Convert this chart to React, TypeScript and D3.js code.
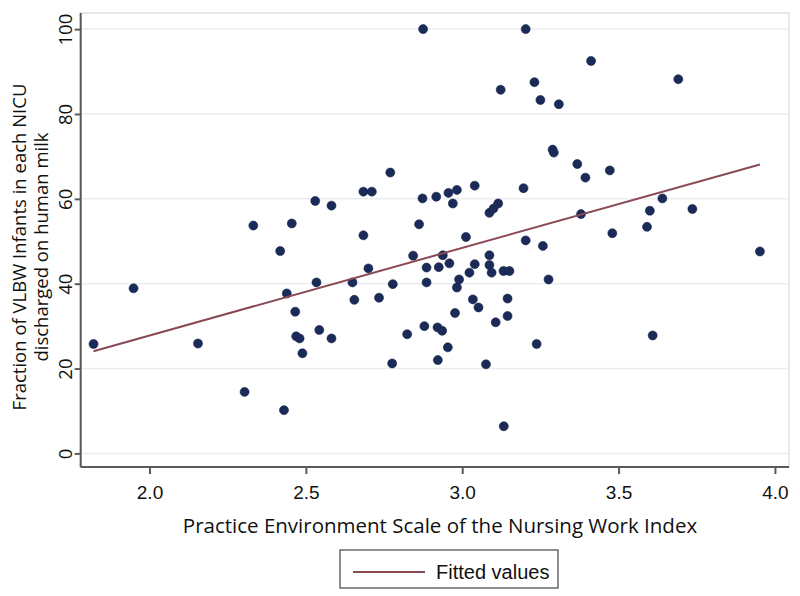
import React, { useEffect, useRef } from "react";
import * as d3 from "d3";

// PES-NWI score per NICU
const pesScore = [
  1.821, 1.949, 2.155, 2.304, 2.332, 2.418, 2.43, 2.439, 2.455, 2.466,
  2.469, 2.48, 2.489, 2.53, 2.534, 2.543, 2.582, 2.582, 2.649, 2.655,
  2.684, 2.684, 2.7, 2.711, 2.734, 2.77, 2.778, 2.776, 2.824, 2.843,
  2.862, 2.873, 2.875, 2.879, 2.886, 2.886, 2.917, 2.921, 2.922, 2.925,
  2.936, 2.938, 2.954, 2.956, 2.959, 2.97, 2.977, 2.983, 2.983, 2.99,
  3.012, 3.023, 3.034, 3.04, 3.04, 3.052, 3.076, 3.087, 3.087, 3.087,
  3.094, 3.1, 3.107, 3.115, 3.123, 3.132, 3.133, 3.145, 3.145, 3.151,
  3.196, 3.203, 3.203, 3.231, 3.238, 3.25, 3.258, 3.276, 3.289, 3.293,
  3.309, 3.368, 3.38, 3.394, 3.412, 3.472, 3.48, 3.591, 3.6, 3.609,
  3.64, 3.691, 3.736, 3.952,
];

// fraction of VLBW infants discharged on human milk
const humanMilk = [
  25.8, 38.9, 25.9, 14.5, 53.7, 47.7, 10.2, 37.7, 54.2, 33.4,
  27.6, 27.1, 23.6, 59.5, 40.3, 29.1, 58.4, 27.1, 40.3, 36.2,
  61.7, 51.4, 43.6, 61.7, 36.7, 66.2, 39.9, 21.2, 28.1, 46.6,
  54.0, 60.1, 100, 30.0, 43.8, 40.3, 60.5, 29.7, 22.0, 43.9,
  28.9, 46.7, 25.0, 61.4, 44.8, 58.9, 33.1, 62.1, 39.1, 41.0,
  51.0, 42.6, 36.3, 63.1, 44.6, 34.4, 21.0, 56.7, 46.7, 44.4,
  42.6, 57.7, 30.9, 58.9, 85.7, 43.0, 6.4, 36.5, 32.4, 43.0,
  62.5, 100, 50.2, 87.5, 25.8, 83.3, 48.9, 41.0, 71.6, 70.9,
  82.3, 68.2, 56.4, 65.0, 92.5, 66.7, 51.9, 53.4, 57.2, 27.8,
  60.1, 88.2, 57.6, 47.6,
];

// fitted values at the ends of the x range
const fitX = [1.821, 3.952];
const fitY = [24.1, 68.1];

const xTicks = [2.0, 2.5, 3.0, 3.5, 4.0];
const yTicks = [0, 20, 40, 60, 80, 100];

const App = () => {
  const ref = useRef<SVGSVGElement>(null);

  useEffect(() => {
    const width = 800;
    const height = 596;
    const plot = { left: 80.7, right: 789, top: 13, bottom: 467 };

    const svg = d3.select(ref.current);
    svg.selectAll("*").remove();
    svg.attr("width", width).attr("height", height);

    const x = d3.scaleLinear().domain([1.78, 4.045]).range([plot.left, plot.right]);
    const y = d3.scaleLinear().domain([-3.2, 103.8]).range([plot.bottom, plot.top]);

    // plot region frame
    svg.append("rect")
      .attr("x", plot.left)
      .attr("y", plot.top)
      .attr("width", plot.right - plot.left)
      .attr("height", plot.bottom - plot.top)
      .attr("fill", "white")
      .attr("stroke", "#e4e8ea")
      .attr("stroke-width", 2);

    // grid
    svg.append("g")
      .selectAll("line")
      .data(yTicks)
      .join("line")
      .attr("x1", plot.left)
      .attr("x2", plot.right - 1)
      .attr("y1", (d) => y(d))
      .attr("y2", (d) => y(d))
      .attr("stroke", "#eaedef")
      .attr("stroke-width", 1.5);

    // y axis
    const yAxis = svg.append("g")
      .attr("transform", `translate(${plot.left},0)`)
      .call(d3.axisLeft(y).tickValues(yTicks).tickSize(6).tickFormat((d) => String(d)));
    yAxis.select(".domain")
      .attr("d", `M0,${plot.top}V${plot.bottom}`)
      .attr("stroke", "#5a5a5a")
      .attr("stroke-width", 2);
    yAxis.selectAll(".tick line").attr("stroke", "#5a5a5a").attr("stroke-width", 2);
    yAxis.selectAll(".tick text")
      .attr("x", null)
      .attr("dy", null)
      .attr("transform", "translate(-16,0) rotate(-90)")
      .attr("text-anchor", "middle")
      .attr("dominant-baseline", "central")
      .attr("font-family", "'Open Sans', sans-serif")
      .attr("font-size", 18.5)
      .attr("fill", "#111");

    // x axis
    const xAxis = svg.append("g")
      .attr("transform", `translate(0,${plot.bottom})`)
      .call(d3.axisBottom(x).tickValues(xTicks).tickSize(7).tickFormat(d3.format(".1f")));
    xAxis.select(".domain")
      .attr("d", `M${plot.left},0H${plot.right}`)
      .attr("stroke", "#5a5a5a")
      .attr("stroke-width", 2);
    xAxis.selectAll(".tick line").attr("stroke", "#5a5a5a").attr("stroke-width", 2);
    xAxis.selectAll(".tick text")
      .attr("y", 32)
      .attr("dy", null)
      .attr("font-family", "'Liberation Sans Narrow', 'Arial Narrow', sans-serif")
      .attr("font-size", 19)
      .attr("fill", "#111");

    // points
    const pts = pesScore.map((v, i) => ({ pes: v, milk: humanMilk[i] }));
    svg.append("g")
      .selectAll("circle")
      .data(pts)
      .join("circle")
      .attr("cx", (d) => x(d.pes))
      .attr("cy", (d) => y(d.milk))
      .attr("r", 4.5)
      .attr("fill", "#1b2b58")
      .attr("stroke", "#16224a")
      .attr("stroke-width", 0.6);

    // fitted line
    const line = d3.line<number>()
      .x((d) => x(d))
      .y((_, i) => y(fitY[i]));
    svg.append("path")
      .attr("d", line(fitX))
      .attr("fill", "none")
      .attr("stroke", "#8a4a54")
      .attr("stroke-width", 2);

    // axis titles
    svg.append("text")
      .attr("x", 440)
      .attr("y", 533)
      .attr("text-anchor", "middle")
      .attr("font-family", "'Open Sans', sans-serif")
      .attr("font-size", 20.5)
      .attr("fill", "#111")
      .text("Practice Environment Scale of the Nursing Work Index");

    const yTitle = svg.append("g")
      .attr("transform", `translate(0,${(plot.top + plot.bottom) / 2 + 7}) rotate(-90)`)
      .attr("font-family", "'Open Sans', sans-serif")
      .attr("font-size", 18.5)
      .attr("fill", "#111")
      .attr("text-anchor", "middle");
    yTitle.append("text").attr("x", 0).attr("y", 26).text("Fraction of VLBW Infants in each NICU");
    yTitle.append("text").attr("x", 0).attr("y", 48).text("discharged on human milk");

    // legend
    const legend = svg.append("g").attr("transform", "translate(340,550)");
    legend.append("rect")
      .attr("width", 218)
      .attr("height", 38)
      .attr("fill", "white")
      .attr("stroke", "#444")
      .attr("stroke-width", 1.2);
    legend.append("line")
      .attr("x1", 13)
      .attr("x2", 85)
      .attr("y1", 22)
      .attr("y2", 22)
      .attr("stroke", "#8a4a54")
      .attr("stroke-width", 2);
    legend.append("text")
      .attr("x", 96)
      .attr("y", 29)
      .attr("font-family", "'Liberation Sans Narrow', 'Arial Narrow', sans-serif")
      .attr("font-size", 20)
      .attr("fill", "#111")
      .text("Fitted values");
  }, []);

  return <svg ref={ref} style={{ position: "absolute", left: 0, top: 0 }}></svg>;
};

export default App;
